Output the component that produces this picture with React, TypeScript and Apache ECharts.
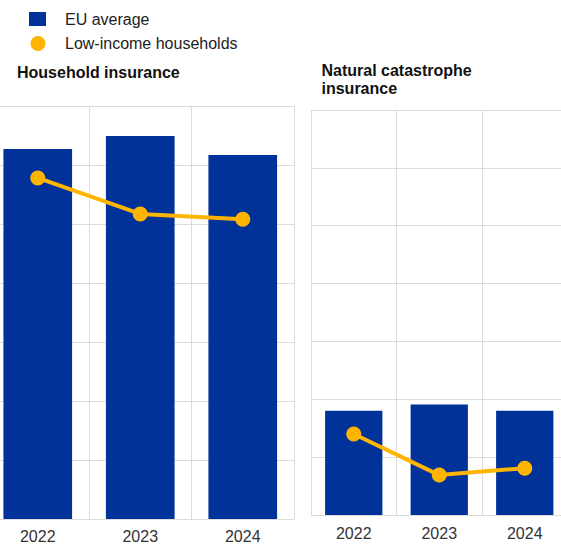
import React, { useEffect, useRef } from "react";
import * as echarts from "echarts";

const categories = ["2022", "2023", "2024"];
const householdEU = [62.7, 64.9, 61.7];
const householdLow = [57.8, 51.7, 50.8];
const natcatEU = [18.0, 19.1, 18.0];
const natcatLow = [14.0, 6.9, 8.1];
const legendNames = ["EU average", "Low-income households"];
const panelTitles = ["Household insurance", "Natural catastrophe\ninsurance"];

const BLUE = "#003299";
const ORANGE = "#FFB400";
const GRID = "#dcdcdc";
const FONT = "'Liberation Sans', Arial, sans-serif";
const OX = 20;

export default function App() {
  const ref = useRef<HTMLDivElement>(null);
  useEffect(() => {
    if (!ref.current) return;
    const chart = echarts.init(ref.current, null, { renderer: "svg" });
    const xAxisBase = (gridIndex: number, margin: number) => ({
      type: "category",
      gridIndex,
      data: categories,
      boundaryGap: true,
      axisLine: { show: true, lineStyle: { color: GRID, width: 1 } },
      axisTick: { show: false },
      axisLabel: { color: "#333", fontSize: 16, fontFamily: FONT, margin },
      splitLine: { show: true, lineStyle: { color: GRID, width: 1 } },
    });
    const yAxisBase = (gridIndex: number) => ({
      type: "value",
      gridIndex,
      min: 0,
      max: 70,
      interval: 10,
      axisLine: { show: false },
      axisTick: { show: false },
      axisLabel: { show: false },
      splitLine: { show: true, lineStyle: { color: GRID, width: 1 } },
    });
    const lineSeries = (idx: number, data: number[]) => ({
      name: legendNames[1],
      type: "line",
      xAxisIndex: idx,
      yAxisIndex: idx,
      data,
      symbol: "circle",
      symbolSize: 15,
      lineStyle: { color: ORANGE, width: 4 },
      itemStyle: { color: ORANGE },
      z: 3,
    });
    const barSeries = (idx: number, data: number[]) => ({
      name: legendNames[0],
      type: "bar",
      xAxisIndex: idx,
      yAxisIndex: idx,
      data,
      barWidth: "67%",
      itemStyle: { color: BLUE },
      z: 2,
    });
    chart.setOption({
      animation: false,
      grid: [
        { left: -13.5 + OX, top: 106, width: 307.5, height: 413 },
        { left: 311 + OX, top: 110, width: 256.5, height: 405 },
      ],
      xAxis: [xAxisBase(0, 9), xAxisBase(1, 10)],
      yAxis: [yAxisBase(0), yAxisBase(1)],
      series: [
        barSeries(0, householdEU),
        lineSeries(0, householdLow),
        barSeries(1, natcatEU),
        lineSeries(1, natcatLow),
      ],
      graphic: [
        { type: "rect", shape: { x: 29 + OX, y: 12, width: 17, height: 14 }, style: { fill: BLUE } },
        { type: "circle", shape: { cx: 38 + OX, cy: 43.5, r: 7.5 }, style: { fill: ORANGE } },
        {
          type: "text",
          x: 65 + OX,
          y: 19,
          style: { text: legendNames[0], fill: "#222", font: `16px ${FONT}`, verticalAlign: "middle" },
        },
        {
          type: "text",
          x: 65 + OX,
          y: 43,
          style: { text: legendNames[1], fill: "#222", font: `16px ${FONT}`, verticalAlign: "middle" },
        },
        {
          type: "text",
          x: 17 + OX,
          y: 72,
          style: { text: panelTitles[0], fill: "#111", font: `bold 16px ${FONT}`, verticalAlign: "middle" },
        },
        {
          type: "text",
          x: 321.5 + OX,
          y: 62,
          style: {
            text: panelTitles[1],
            fill: "#111",
            font: `bold 16px ${FONT}`,
            verticalAlign: "top",
            lineHeight: 17.5,
          },
        },
      ],
    });
    return () => chart.dispose();
  }, []);
  return (
    <div style={{ position: "absolute", left: 0, top: 0, width: 561, height: 544, overflow: "hidden", background: "#fff" }}>
      <div ref={ref} style={{ position: "absolute", left: -OX, top: 0, width: 561 + OX + 20, height: 544 }} />
    </div>
  );
}
